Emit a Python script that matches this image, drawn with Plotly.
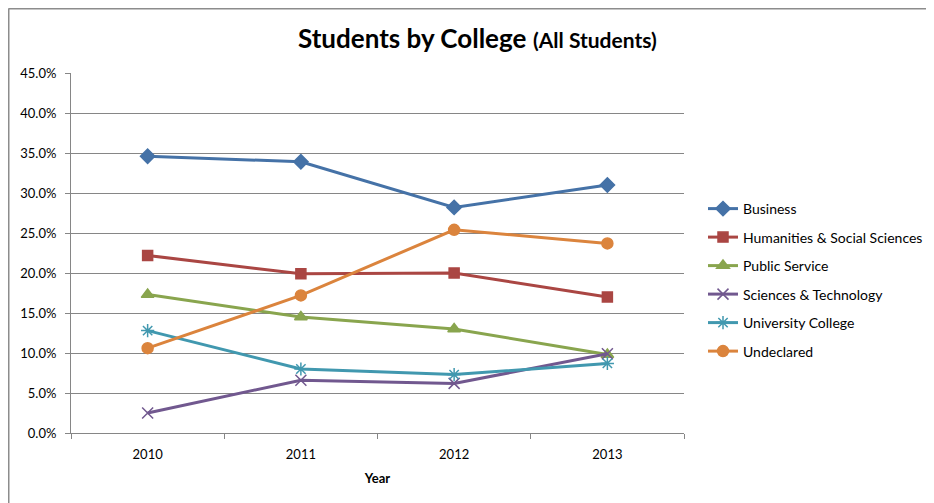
import plotly.graph_objects as go

years = ["2010", "2011", "2012", "2013"]
business = [34.6, 33.9, 28.2, 31.0]
humanities = [22.2, 19.9, 20.0, 17.0]
public_service = [17.3, 14.5, 13.0, 9.8]
sciences = [2.5, 6.6, 6.2, 9.9]
university = [12.8, 8.0, 7.3, 8.7]
undeclared = [10.6, 17.2, 25.4, 23.7]

series = [
    ("Business", business, "#4572A7", "diamond", 11),
    ("Humanities & Social Sciences", humanities, "#AA4643", "square", 10),
    ("Public Service", public_service, "#89A54E", "triangle-up", 11),
    ("Sciences & Technology", sciences, "#71588F", "x-thin-open", 11),
    ("University College", university, "#4198AF", "asterisk-open", 11),
    ("Undeclared", undeclared, "#DB843D", "circle", 11),
]

FONT = "Lato"
fig = go.Figure()
for i, (name, vals, col, sym, sz) in enumerate(series):
    fig.add_trace(go.Scatter(
        x=years, y=vals, name=name, mode="lines+markers",
        legendgroup=f"g{i}",
        line=dict(color=col, width=3),
        marker=dict(symbol=sym, size=sz, color=col, line=dict(color=col, width=1.5)),
    ))

OFF = 8  # page body margin
W, H = 934 - OFF, 503 - OFF
L, R, T, B = 71 - OFF, 684 - OFF, 73 - OFF, 433 - OFF
pw, ph = R - L, B - T

def px_x(p):
    return (p - OFF - L) / pw

def px_y(p):
    return (B - (p - OFF)) / ph

fig.update_layout(
    width=W, height=H,
    margin=dict(l=L, r=W - R, t=T, b=H - B, autoexpand=False),
    paper_bgcolor="white", plot_bgcolor="white",
    font=dict(family=FONT, size=13, color="#000000"),
    showlegend=True,
    legend=dict(x=px_x(703), y=px_y(193), xanchor="left", yanchor="top",
                font=dict(family=FONT, size=14), tracegroupgap=7.3,
                bgcolor="rgba(0,0,0,0)"),
    xaxis=dict(type="category", range=[-0.5, 3.5], showgrid=False,
               showline=True, linecolor="#868686", linewidth=1,
               ticks="outside", tickson="boundaries", ticklen=5, tickcolor="#868686",
               ticklabelstandoff=9,
               tickfont=dict(family=FONT, size=13),
               title=dict(text="<b>Year</b>", font=dict(family=FONT, size=13), standoff=13)),
    yaxis=dict(range=[0, 45], dtick=5, tickformat=".1f", ticksuffix="%",
               showgrid=True, gridcolor="#868686", gridwidth=1,
               showline=True, linecolor="#868686", linewidth=1,
               ticks="outside", ticklen=5, tickcolor="#868686",
               ticklabelstandoff=6,
               tickfont=dict(family=FONT, size=13), zeroline=False),
    annotations=[dict(
        text="<b>Students by College</b> <b><span style='font-size:21px'>(All Students)</span></b>",
        x=px_x(477), y=px_y(38), xref="paper", yref="paper",
        xanchor="center", yanchor="middle", showarrow=False,
        font=dict(family=FONT, size=26, color="#000000"))],
    shapes=[
        dict(type="line", xref="paper", yref="paper", x0=px_x(8.5), x1=px_x(940),
             y0=px_y(8.5), y1=px_y(8.5), line=dict(color="#8c8c8c", width=2)),
        dict(type="line", xref="paper", yref="paper", x0=px_x(8.5), x1=px_x(8.5),
             y0=px_y(8.5), y1=px_y(510), line=dict(color="#8c8c8c", width=2)),
    ],
)

fig.write_html("out.html")
